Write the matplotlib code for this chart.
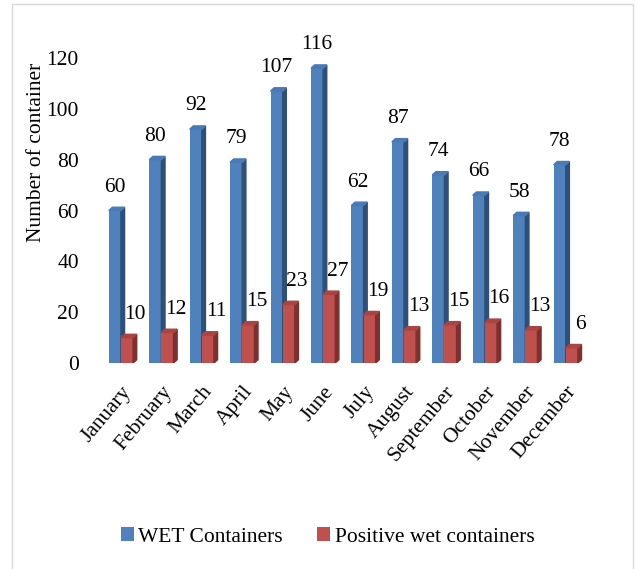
import numpy as np
import matplotlib.pyplot as plt
from matplotlib.patches import Polygon, Rectangle

plt.rcParams['font.family'] = ['Liberation Serif', 'DejaVu Serif']

months = ["January", "February", "March", "April", "May", "June", "July",
          "August", "September", "October", "November", "December"]
wet = [60, 80, 92, 79, 107, 116, 62, 87, 74, 66, 58, 78]
positive = [10, 12, 11, 15, 23, 27, 19, 13, 15, 16, 13, 6]

fs = 15.5

fig = plt.figure(figsize=(6.35, 5.69), dpi=100)
ax = fig.add_axes([0.1395, 0.362, 0.796, 0.536])

x = np.arange(len(months))
w = 0.3
dx, dy = 0.09, 1.3   # fake depth for the 3d look

def bar3d(xs, hs, front, side, top):
    bars = ax.bar(xs, hs, width=w, color=front, zorder=3)
    for xc, h in zip(xs, hs):
        x0, x1 = xc - w / 2, xc + w / 2
        ax.add_patch(Polygon([(x1, 0), (x1, h), (x1 + dx, h + dy), (x1 + dx, dy)],
                             closed=True, color=side, zorder=3))
        ax.add_patch(Polygon([(x0, h), (x1, h), (x1 + dx, h + dy), (x0 + dx, h + dy)],
                             closed=True, color=top, zorder=3))
    return bars

b1 = bar3d(x - w / 2, wet, "#4F81BD", "#2E4F7A", "#4A7AB5")
b2 = bar3d(x + w / 2, positive, "#C0504D", "#7E302E", "#A94441")

for xi, v in zip(x, wet):
    ax.annotate(str(v), (xi - w / 2, v), xytext=(0, 10), textcoords="offset points",
                ha="center", va="bottom", fontsize=fs)
for xi, v in zip(x, positive):
    ax.annotate(str(v), (xi + w / 2, v), xytext=(6, 10), textcoords="offset points",
                ha="center", va="bottom", fontsize=fs)

ax.set_xlim(-0.8, 11.7)
ax.set_ylim(0, 120)
ax.set_yticks(range(0, 121, 20))
ax.set_xticks(x)
ax.set_xticklabels(months, rotation=50, ha="right", rotation_mode="anchor")
ax.tick_params(axis="both", length=0, labelsize=fs)
ax.tick_params(axis="x", pad=14)
ax.tick_params(axis="y", pad=7)
for s in ax.spines.values():
    s.set_visible(False)
ax.set_ylabel("Number of container", fontsize=fs)
ax.yaxis.set_label_coords(-0.084, 0.69)

fig.legend([b1, b2], ["WET Containers", "Positive wet containers"],
           loc="center", bbox_to_anchor=(0.516, 0.056), ncol=2, frameon=False,
           fontsize=fs, handlelength=0.6, handleheight=0.6, handletextpad=0.2,
           columnspacing=1.6)

# light frame round the chart
fig.patches.append(Rectangle((12 / 635, -0.01), 621 / 635, 1 - 4 / 569 + 0.01,
                             transform=fig.transFigure, fill=False,
                             edgecolor="#d9d9d9", linewidth=1))

plt.savefig("out.png", dpi=100)
